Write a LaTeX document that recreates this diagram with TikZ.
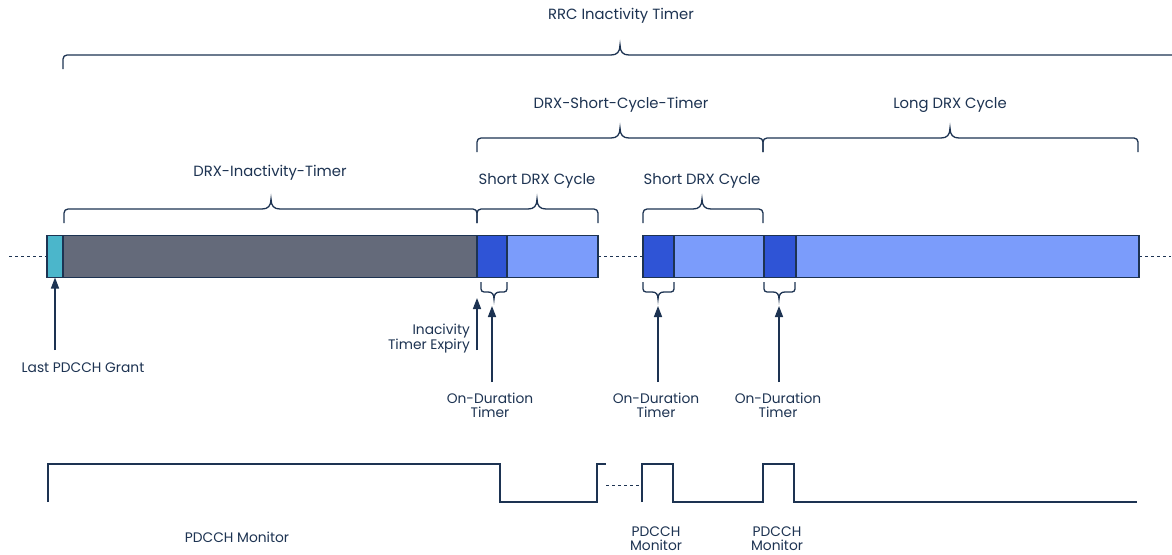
\documentclass[tikz,border=0pt]{standalone}
\usepackage{fontspec}
\setmainfont{Poppins}
\usetikzlibrary{arrows.meta}
\definecolor{navy}{HTML}{1D3352}
\definecolor{tealc}{HTML}{4BB6CB}
\definecolor{grayc}{HTML}{646A7A}
\definecolor{dblue}{HTML}{2F54D6}
\definecolor{lblue}{HTML}{7B9CFB}
\newcommand{\brcup}[5]{%
  \draw[brc] (#1,#3) -- (#1,#4+4) to[out=90,in=180] (#1+4,#4) -- (#5-9,#4)
    .. controls (#5-3,#4) and (#5,#4-3) .. (#5,#4-10)
    .. controls (#5,#4-3) and (#5+3,#4) .. (#5+9,#4)
    -- (#2-4,#4) to[out=0,in=90] (#2,#4+4) -- (#2,#3);}
\newcommand{\brcdown}[5]{%
  \draw[brc] (#1,#3) -- (#1,#4-3) to[out=-90,in=180] (#1+3,#4) -- (#5-6,#4)
    .. controls (#5-2,#4) and (#5,#4+2) .. (#5,#4+7)
    .. controls (#5,#4+2) and (#5+2,#4) .. (#5+6,#4)
    -- (#2-3,#4) to[out=0,in=-90] (#2,#4-3) -- (#2,#3);}
\tikzset{
  seg/.style={draw=navy, line width=1.2pt, minimum height=42pt, inner sep=0pt, outer sep=0pt, anchor=west},
  brc/.style={draw=navy, line width=1.3pt},
  hdr/.style={text=navy, font=\fontsize{14.8}{17}\selectfont, inner sep=0pt, align=center},
  sml/.style={text=navy, font=\fontsize{13.8}{14}\selectfont, inner sep=0pt, align=center},
  arr/.style={draw=navy, line width=1.5pt, -{Triangle[length=11pt,width=8pt]}},
  dots/.style={draw=navy, line width=1pt, dash pattern=on 3pt off 3pt},
  wave/.style={draw=navy, line width=1.3pt},
}
\begin{document}
\begin{tikzpicture}[x=1pt,y=-1pt]
\useasboundingbox[fill=white] (0,0) rectangle (1172,554);
% bar segments
\node[seg, fill=tealc, minimum width=16pt] (s0) at (47,256.5) {};
\node[seg, fill=grayc, minimum width=414pt] (s1) at (63,256.5) {};
\node[seg, fill=dblue, minimum width=30pt] (s2) at (477,256.5) {};
\node[seg, fill=lblue, minimum width=91pt] (s3) at (507,256.5) {};
\node[seg, fill=dblue, minimum width=31pt] (s4) at (643,256.5) {};
\node[seg, fill=lblue, minimum width=90pt] (s5) at (674,256.5) {};
\node[seg, fill=dblue, minimum width=32pt] (s6) at (764,256.5) {};
\node[seg, fill=lblue, minimum width=343pt] (s7) at (796,256.5) {};
\coordinate (dl) at (9,256.5);
\coordinate (dr) at (1171,256.5);
\draw[dots] (dl) -- (s0.west);
\draw[dots] (s3.east) -- (s4.west);
\draw[dots] (s7.east) -- (dr);
% braces above
\brcup{63}{1176}{69}{55}{620}
\brcup{64}{477}{223}{209}{271}
\brcup{477}{598}{223}{209}{537}
\brcup{643}{763}{223}{209}{702}
\brcup{477}{763}{152}{138}{620}
\brcup{763}{1138}{152}{138}{950}
% small braces below
\brcdown{481}{507}{282}{292}{494}
\brcdown{643}{674}{282}{292}{658}
\brcdown{764}{795}{282}{292}{779}
% header labels
\node[hdr] (rrc) at (621,16) {RRC Inactivity Timer};
\node[hdr] (drxi) at (270,173) {DRX-Inactivity-Timer};
\node[hdr] (sdc1) at (537,181) {Short DRX Cycle};
\node[hdr] (sdc2) at (702,181) {Short DRX Cycle};
\node[hdr] (dsct) at (621,105) {DRX-Short-Cycle-Timer};
\node[hdr] (ldc) at (950,105) {Long DRX Cycle};
% small labels
\node[sml] (lpg) at (83,368) {Last PDCCH Grant};
\node[sml, anchor=east, align=right] (ite) at (470,339) {Inacivity\\Timer Expiry};
\node[sml] (od1) at (490,405) {On-Duration\\Timer};
\node[sml] (od2) at (656,405) {On-Duration\\Timer};
\node[sml] (od3) at (778,405) {On-Duration\\Timer};
% arrows
\coordinate (a0) at (55,350);
\coordinate (a1) at (477,350);
\coordinate (t1) at (477,298);
\coordinate (a2) at (492,382);
\coordinate (t2) at (492,306);
\coordinate (a3) at (658,382);
\coordinate (t3) at (658,306);
\coordinate (a4) at (779,382);
\coordinate (t4) at (779,306);
\draw[arr] (a0) -- (s0.south);
\draw[arr] (a1) -- (t1);
\draw[arr] (a2) -- (t2);
\draw[arr] (a3) -- (t3);
\draw[arr] (a4) -- (t4);
% waveform
\draw[wave] (48,502) -- (48,464) -- (500,464) -- (500,502) -- (597,502) -- (597,464) -- (606,464);
\draw[dots] (606,485) -- (642,485);
\draw[wave] (642,502) -- (642,464) -- (673,464) -- (673,502) -- (763,502) -- (763,464) -- (794,464) -- (794,502) -- (1137,502);
\node[sml] (pm1) at (237,537) {PDCCH Monitor};
\node[sml] (pm2) at (656,539) {PDCCH\\Monitor};
\node[sml] (pm3) at (777,539) {PDCCH\\Monitor};
\end{tikzpicture}
\end{document}
